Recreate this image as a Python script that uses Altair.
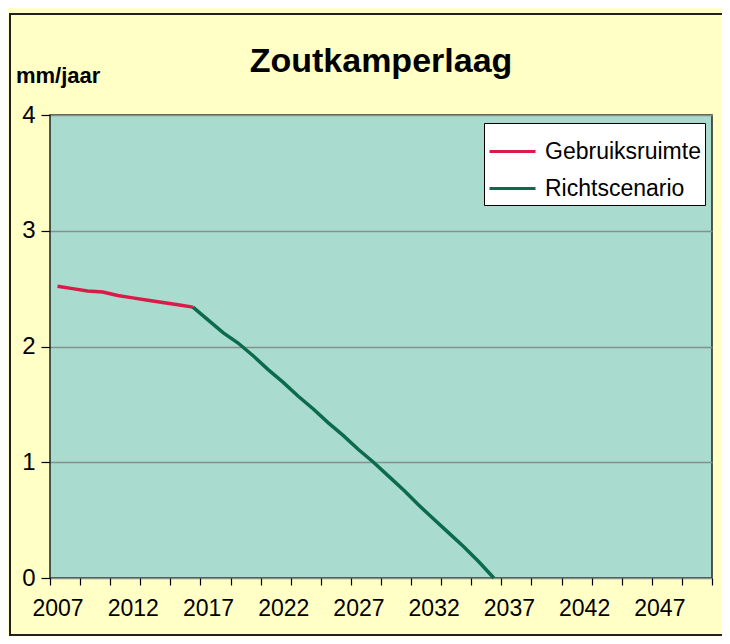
import altair as alt
import pandas as pd

# Data
gebruik_years = [2007, 2008, 2009, 2010, 2011, 2012, 2013, 2014, 2015, 2016]
gebruik_vals = [2.52, 2.50, 2.48, 2.47, 2.44, 2.42, 2.40, 2.38, 2.36, 2.34]
richt_years = [2016, 2017, 2018, 2019, 2020, 2021, 2022, 2023, 2024, 2025, 2026,
               2027, 2028, 2029, 2030, 2031, 2032, 2033, 2034, 2035, 2036]
richt_vals = [2.34, 2.23, 2.12, 2.03, 1.92, 1.80, 1.69, 1.57, 1.46, 1.34, 1.23,
              1.11, 1.00, 0.88, 0.76, 0.63, 0.51, 0.39, 0.27, 0.14, 0.00]
series_names = ["Gebruiksruimte", "Richtscenario"]
series_colors = ["#D81C48", "#0B6B4B"]
label_years = [2007, 2012, 2017, 2022, 2027, 2032, 2037, 2042, 2047]
tick_years = [2006.5 + 2 * i for i in range(23)]
y_ticks = [0, 1, 2, 3, 4]
title_text = ["Zoutkamperlaag"]
unit_text = ["mm/jaar"]

rows = [{"year": y, "value": v, "series": series_names[0]} for y, v in zip(gebruik_years, gebruik_vals)]
rows += [{"year": y, "value": v, "series": series_names[1]} for y, v in zip(richt_years, richt_vals)]
df = pd.DataFrame(rows)

FONT = "Liberation Sans"
W, H = 662, 463

xscale = alt.Scale(domain=[2006.5, 2050.5], nice=False, zero=False)
yscale = alt.Scale(domain=[0, 4], nice=False)


def yaxis():
    return alt.Axis(values=y_ticks, format="d", labelFontSize=24, labelFont=FONT, labelColor="black",
                    labelPadding=6, tickSize=9, tickColor="black", tickWidth=1.2, domain=False,
                    grid=True, gridColor="#85918C", gridWidth=1.5, title=None)


lines = alt.Chart(df).mark_line(strokeWidth=3.5).encode(
    x=alt.X("year:Q", scale=xscale,
            axis=alt.Axis(values=label_years, format="d", ticks=False, domain=False, grid=False,
                          labelFontSize=23, labelFont=FONT, labelColor="black", labelPadding=19,
                          title=None, orient="bottom")),
    y=alt.Y("value:Q", scale=yscale, axis=yaxis()),
    color=alt.Color("series:N", scale=alt.Scale(domain=series_names, range=series_colors),
                    legend=alt.Legend(title=None, orient="none", legendX=434, legendY=8,
                                      fillColor="white", strokeColor="black", padding=4,
                                      symbolType="stroke", symbolSize=2116, symbolStrokeWidth=3,
                                      labelFontSize=23, labelFont=FONT, labelColor="black",
                                      labelOffset=8, rowPadding=0)),
    detail="series:N",
)

ticks_layer = alt.Chart(df).mark_line(opacity=0).encode(
    x=alt.X("year:Q", scale=xscale,
            axis=alt.Axis(values=tick_years, labels=False, tickSize=7, tickColor="black",
                          tickWidth=1.2, domain=False, grid=False, title=None, orient="bottom")),
    y=alt.Y("value:Q", scale=yscale, axis=yaxis()),
)

frame = alt.Chart(df).mark_rect(filled=False, stroke="#222222", strokeWidth=1.5).encode(
    x=alt.value(-40), x2=alt.value(720), y=alt.value(-101), y2=alt.value(520)
)

title = alt.Chart(pd.DataFrame({"t": title_text})).mark_text(
    font=FONT, fontSize=34, fontWeight="bold", color="black", align="center", baseline="alphabetic"
).encode(text="t:N", x=alt.value(331), y=alt.value(-43))

unit = alt.Chart(pd.DataFrame({"t": unit_text})).mark_text(
    font=FONT, fontSize=22, fontWeight="bold", color="black", align="left", baseline="alphabetic"
).encode(text="t:N", x=alt.value(-34), y=alt.value(-32))

chart = alt.layer(frame, ticks_layer, lines, title, unit).resolve_axis(x="independent").properties(
    width=W, height=H,
    autosize=alt.AutoSizeParams(type="none"),
    padding={"left": 42, "top": 107, "right": 10, "bottom": 58},
    background="#FFFFC6",
).configure_view(fill="#A9DCCF", stroke="#222222", strokeWidth=1.5)

chart.save("out.html", embed_options={"renderer": "svg", "actions": False})
